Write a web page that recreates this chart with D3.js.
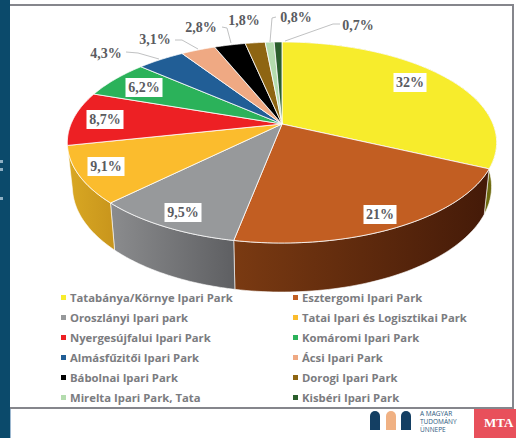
<!DOCTYPE html>
<html>
<head>
<meta charset="utf-8">
<script src="https://cdn.jsdelivr.net/npm/d3@7"></script>
<style>
    html, body { margin: 0; padding: 0; background: #fff; }
    svg { display: block; }
    .pct { font-family: "Liberation Serif", serif; font-weight: bold; font-size: 14px; fill: #5a5b60; text-anchor: middle; }
    .leg { font-family: "Open Sans", sans-serif; font-weight: bold; font-size: 11.3px; fill: #7b7c80; }
    .logo { font-family: "Open Sans", sans-serif; font-size: 6.5px; fill: #2c5a80; }
    .mta { font-family: "Liberation Serif", serif; font-weight: bold; font-size: 13px; fill: #fff; }
</style>
</head>
<body>
<script>
    var categories = ["Tatabánya/Környe Ipari Park", "Esztergomi Ipari Park", "Oroszlányi Ipari park", "Tatai Ipari és Logisztikai Park", "Nyergesújfalui Ipari Park", "Komáromi Ipari Park", "Almásfűzitői Ipari Park", "Ácsi Ipari Park", "Bábolnai Ipari Park", "Dorogi Ipari Park", "Mirelta Ipari Park, Tata", "Kisbéri Ipari Park"];
    var shares = [32, 21, 9.5, 9.1, 8.7, 6.2, 4.3, 3.1, 2.8, 1.8, 0.8, 0.7];
    var shareLabels = ["32%", "21%", "9,5%", "9,1%", "8,7%", "6,2%", "4,3%", "3,1%", "2,8%", "1,8%", "0,8%", "0,7%"];
    var colors = ["#f7ec2c", "#c25e22", "#97999b", "#fbbc2d", "#ed2024", "#2bb25a", "#215e96", "#efa983", "#000000", "#8e6512", "#b4dcae", "#2a5e2c"];
    var wallLeft = ["#8f8a1a", "#7a3a12", "#8b8c8e", "#d9a823"];
    var wallRight = ["#6d6a10", "#441a08", "#5e5f62", "#c8951c"];
    var logoLines = ["A MAGYAR", "TUDOMÁNY", "ÜNNEPE"];

    var width = 516, height = 438;

    //pie is seen in perspective, so the unit circle goes through a projective map
    var cx = 282, persp = -0.184;
    function topFace(p) {
        var w = 1 + persp * p[1];
        return [cx + 211 * p[0] / w, (74.3 * p[1] + 124) / w];
    }
    function bottomFace(p) {
        var w = 1 + persp * p[1];
        return [cx + 206 * p[0] / w, (71 * p[1] + 167.3) / w];
    }
    function unit(a) { return [Math.sin(a), -Math.cos(a)]; }
    function arcPoints(a0, a1) {
        return d3.range(0, 61).map(function (i) { return unit(a0 + (a1 - a0) * i / 60); });
    }

    var svg = d3.select("body").append("svg").attr("width", width).attr("height", height);
    var line = d3.line();
    var slices = d3.pie().sort(null)(shares);
    var defs = svg.append("defs");

    //page furniture
    svg.append("rect").attr("x", 0).attr("y", 0).attr("width", 10).attr("height", height).attr("fill", "#0b4a6b");
    svg.append("rect").attr("x", 10).attr("y", 408).attr("width", 1).attr("height", 30).attr("fill", "#9db8d0");
    //cut off letters of the page behind
    [160, 168, 197].forEach(function (y) {
        svg.append("rect").attr("x", 0).attr("y", y).attr("width", 3).attr("height", 3).attr("fill", "#8fb0c4");
    });
    svg.append("path").attr("fill", "none").attr("stroke", "#85868c").attr("stroke-width", 2)
        .attr("d", "M10,5H513V408H10");

    //side walls first, only the front slices show one
    slices.slice(0, wallLeft.length).forEach(function (d, i) {
        var grad = defs.append("linearGradient").attr("id", "wall" + i);
        grad.append("stop").attr("offset", 0).attr("stop-color", wallLeft[i]);
        grad.append("stop").attr("offset", 1).attr("stop-color", wallRight[i]);
        var pts = arcPoints(d.startAngle, d.endAngle);
        var outline = pts.map(topFace).concat(pts.slice().reverse().map(bottomFace));
        svg.append("path").attr("d", line(outline) + "Z")
            .attr("fill", "url(#wall" + i + ")")
            .attr("stroke", "#fff").attr("stroke-width", 0.6);
    });

    //top face
    slices.forEach(function (d, i) {
        var outline = [topFace([0, 0])].concat(arcPoints(d.startAngle, d.endAngle).map(topFace));
        svg.append("path").attr("d", line(outline) + "Z")
            .attr("fill", colors[i]).attr("stroke", "#fff").attr("stroke-width", 0.8)
            .attr("stroke-linejoin", "round");
    });

    //inside labels sit on white boxes
    var insideAt = [[410, 83], [380, 215], [183, 213], [106, 167], [105, 120], [144, 88]];
    insideAt.forEach(function (q, i) {
        var w = shareLabels[i].length > 3 ? 37 : 33;
        svg.append("rect").attr("x", q[0] - w / 2).attr("y", q[1] - 10).attr("width", w).attr("height", 19).attr("fill", "#fff");
        svg.append("text").attr("class", "pct").attr("x", q[0]).attr("y", q[1] + 4).text(shareLabels[i]);
    });

    //outside labels with thin leaders, 1,8% has none
    var outsideAt = [[106, 54], [155, 40], [201, 28], [244, 21], [296, 18], [358, 26]];
    var leaders = [
        [[126, 52], [138, 53], [159, 59]],
        [[175, 40], [182, 40], [198, 49]],
        [[222, 27], [227, 28], [231, 43]],
        null,
        [[276, 17], [272, 18], [270, 42]],
        [[340, 24], [333, 24], [285, 41]]
    ];
    outsideAt.forEach(function (q, i) {
        if (leaders[i]) {
            svg.append("path").attr("fill", "none").attr("stroke", "#b0b1b3").attr("stroke-width", 0.8)
                .attr("d", line(leaders[i]));
        }
        svg.append("text").attr("class", "pct").attr("x", q[0]).attr("y", q[1] + 4).text(shareLabels[i + 6]);
    });

    //legend, two columns
    var legX = d3.scalePoint().domain([0, 1]).range([70, 302]);
    var legY = d3.scalePoint().domain(d3.range(6)).range([297, 397]);
    categories.forEach(function (c, i) {
        var x = legX(i % 2), y = legY(Math.floor(i / 2));
        svg.append("rect").attr("x", x - 9).attr("y", y - 2).attr("width", 5).attr("height", 5).attr("fill", colors[i]);
        svg.append("text").attr("class", "leg").attr("x", x).attr("y", y + 5).text(c);
    });

    //logo strip under the frame
    [[370, "#143f63"], [386, "#f0b183"], [401, "#143f63"]].forEach(function (a) {
        svg.append("path").attr("fill", a[1])
            .attr("d", "M" + a[0] + ",430V416a5,5 0 0 1 10,0V430Z");
    });
    logoLines.forEach(function (t, i) {
        svg.append("text").attr("class", "logo").attr("x", 420).attr("y", 416 + i * 8).text(t);
    });
    svg.append("rect").attr("x", 474).attr("y", 409).attr("width", 42).attr("height", 29).attr("fill", "#e8505b");
    svg.append("text").attr("class", "mta").attr("x", 484).attr("y", 427).text("MTA");
</script>
</body>
</html>
